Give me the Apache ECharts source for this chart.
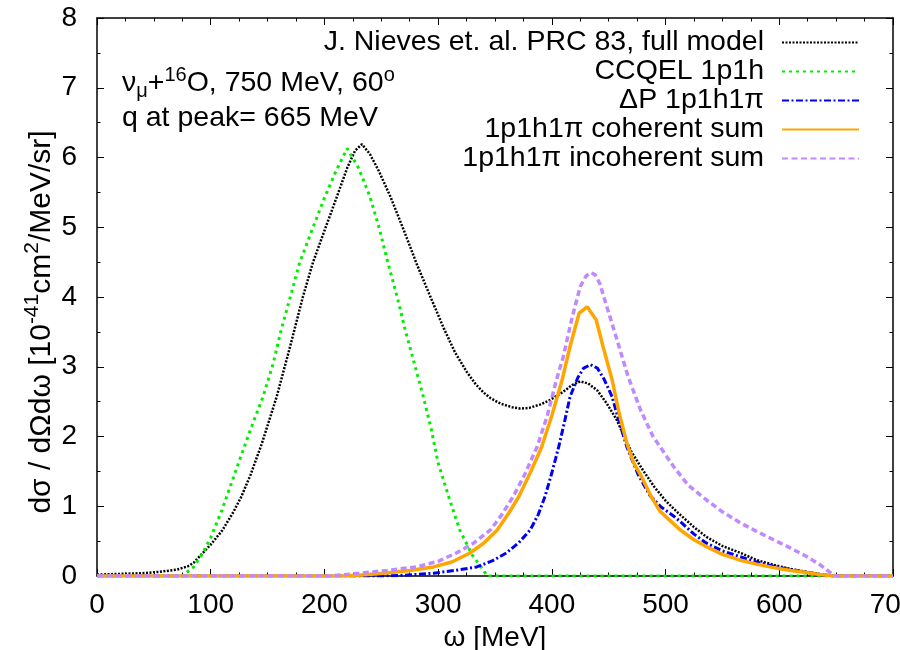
<!DOCTYPE html>
<html>
<head>
    <meta charset="utf-8" />
    <title>numu + 16O, 750 MeV, 60 deg</title>
    <script type="text/javascript" src="https://cdn.jsdelivr.net/npm/echarts@6/dist/echarts.min.js"></script>
    <style>
        html, body { margin: 0; padding: 0; background: #fff; }
        #chart { width: 900px; height: 650px; }
    </style>
</head>
<body>
<div id="chart"></div>
<script type="text/javascript">
    // omega [MeV] and d2sigma values
    var nievesX = [0, 20, 40, 55, 70, 80, 85, 93, 100, 110, 120, 127, 135, 145, 158, 170, 181, 190, 200, 211, 220, 227, 233, 240, 248, 258, 270, 281, 292, 305, 315, 325, 333, 340, 346, 355, 365, 372, 380, 390, 398, 410, 418, 425, 432, 440, 448, 457, 465, 470, 480, 490, 500, 510, 525, 536, 550, 566, 580, 595, 610, 624, 635, 647, 700];
    var nievesY = [0.02, 0.03, 0.04, 0.06, 0.09, 0.14, 0.19, 0.33, 0.45, 0.65, 0.92, 1.14, 1.45, 1.9, 2.57, 3.3, 4.0, 4.5, 4.95, 5.44, 5.85, 6.1, 6.19, 6.05, 5.8, 5.44, 4.95, 4.48, 4.05, 3.55, 3.2, 2.93, 2.75, 2.63, 2.55, 2.47, 2.42, 2.40, 2.41, 2.46, 2.52, 2.64, 2.74, 2.79, 2.76, 2.66, 2.48, 2.24, 1.95, 1.78, 1.52, 1.28, 1.08, 0.92, 0.7, 0.56, 0.43, 0.33, 0.23, 0.16, 0.1, 0.06, 0.03, 0.0, 0.0];

    var ccqelX = [0, 75, 78, 85, 92, 100, 110, 124, 135, 146, 155, 162, 170, 178, 190, 200, 210, 220, 230, 240, 248, 256, 264, 271, 279, 287, 294, 300, 310, 319, 330, 340, 343, 700];
    var ccqelY = [0, 0, 0.04, 0.13, 0.3, 0.55, 0.95, 1.6, 2.1, 2.57, 3.05, 3.53, 4.0, 4.48, 5.0, 5.42, 5.8, 6.13, 5.85, 5.44, 5.0, 4.48, 4.0, 3.53, 3.05, 2.57, 2.1, 1.62, 1.1, 0.66, 0.3, 0.08, 0.0, 0];

    var deltaX = [0, 250, 270, 296, 315, 334, 348, 360, 371, 381, 388, 394, 400, 406, 411, 416, 423, 428, 434, 440, 446, 453, 459, 466, 476, 486, 496, 507, 513, 525, 536, 550, 565, 580, 595, 610, 625, 637, 647, 700];
    var deltaY = [0, 0, 0.01, 0.04, 0.08, 0.13, 0.22, 0.33, 0.48, 0.66, 0.88, 1.14, 1.48, 1.85, 2.2, 2.57, 2.85, 2.98, 3.03, 2.98, 2.82, 2.57, 2.22, 1.85, 1.45, 1.16, 0.99, 0.86, 0.78, 0.6, 0.47, 0.36, 0.28, 0.2, 0.14, 0.09, 0.05, 0.02, 0.0, 0];

    var cohX = [0, 215, 230, 252, 275, 296, 312, 328, 340, 352, 362, 371, 381, 391, 400, 409, 416, 424, 431, 439, 445, 453, 459, 466, 472, 479, 487, 495, 505, 513, 525, 536, 550, 565, 580, 595, 610, 624, 636, 647, 700];
    var cohY = [0, 0, 0.01, 0.04, 0.08, 0.13, 0.2, 0.33, 0.47, 0.66, 0.9, 1.14, 1.48, 1.85, 2.3, 2.81, 3.29, 3.77, 3.86, 3.67, 3.29, 2.81, 2.35, 1.9, 1.62, 1.42, 1.15, 0.93, 0.78, 0.66, 0.52, 0.42, 0.31, 0.23, 0.17, 0.12, 0.08, 0.05, 0.02, 0.0, 0];

    var incohX = [0, 205, 231, 255, 281, 300, 316, 331, 346, 356, 366, 376, 387, 396, 404, 410, 418, 425, 430, 434, 438, 442, 451, 460, 467, 478, 489, 507, 520, 536, 550, 566, 580, 595, 610, 624, 636, 647, 650, 700];
    var incohY = [0, 0, 0.04, 0.08, 0.13, 0.21, 0.33, 0.47, 0.66, 0.88, 1.14, 1.45, 1.85, 2.3, 2.81, 3.14, 3.72, 4.15, 4.3, 4.35, 4.32, 4.2, 3.72, 3.24, 2.86, 2.38, 2.0, 1.57, 1.3, 1.09, 0.92, 0.76, 0.64, 0.52, 0.4, 0.28, 0.16, 0.02, 0, 0];

    var seriesNames = ['J. Nieves et. al. PRC 83, full model', 'CCQEL 1p1h', 'ΔP 1p1h1π', '1p1h1π coherent sum', '1p1h1π incoherent sum'];

    function pairs(xs, ys) {
        var out = [];
        for (var i = 0; i < xs.length; i++) out.push([xs[i], ys[i]]);
        return out;
    }

    var FONT = 'Liberation Sans';
    var myChart = echarts.init(document.getElementById('chart'));

    function frameAxis(pos, isX, showLabel) {
        var ax = {
            type: 'value',
            position: pos,
            min: 0,
            max: isX ? 700 : 8,
            interval: isX ? 100 : 1,
            axisLine: { show: true, onZero: false, lineStyle: { color: '#000', width: 1.5 } },
            axisTick: { show: true, inside: true, length: 7, lineStyle: { color: '#000', width: 1 } },
            minorTick: { show: true, splitNumber: isX ? 4 : 2, length: 3.5, lineStyle: { color: '#000', width: 1 } },
            splitLine: { show: false },
            axisLabel: { show: showLabel, color: '#000', fontSize: 28, fontFamily: FONT, margin: isX ? 15 : 20 }
        };
        return ax;
    }

    var xBottom = frameAxis('bottom', true, true);
    xBottom.name = 'ω [MeV]';
    xBottom.nameLocation = 'middle';
    xBottom.nameGap = 37;
    xBottom.nameTextStyle = { color: '#000', fontSize: 28, fontFamily: FONT };

    var richSup = {
        n: { fontSize: 28.5, lineHeight: 36, fontFamily: FONT, fill: '#000' },
        sup: { fontSize: 20, lineHeight: 20, verticalAlign: 'top', fontFamily: FONT, fill: '#000' },
        sub: { fontSize: 20, lineHeight: 20, verticalAlign: 'bottom', fontFamily: FONT, fill: '#000' }
    };
    var richTitle = {
        n: { fontSize: 30, lineHeight: 40, fontFamily: FONT, fill: '#000' },
        sup: { fontSize: 21, lineHeight: 21, verticalAlign: 'top', fontFamily: FONT, fill: '#000' }
    };

    var option = {
        animation: false,
        backgroundColor: '#fff',
        grid: { left: 97, right: 7, top: 18, bottom: 74, containLabel: false, outerBoundsMode: 'none' },
        xAxis: [xBottom, frameAxis('top', true, false)],
        yAxis: [frameAxis('left', false, true), frameAxis('right', false, false)],
        legend: {
            orient: 'vertical',
            align: 'right',
            right: 40,
            top: 28,
            padding: 0,
            itemGap: 0,
            itemWidth: 77,
            itemHeight: 14,
            selectedMode: false,
            itemStyle: { opacity: 0 },
            textStyle: { color: '#000', fontSize: 28.5, fontFamily: FONT, lineHeight: 28.3, padding: [0, 13, 0, 0] },
            data: seriesNames
        },
        graphic: [
            {
                // y-axis title
                type: 'text', x: 42, y: 322, rotation: Math.PI / 2,
                style: {
                    text: '{n|dσ / dΩdω [10}{sup|-41}{n|cm}{sup|2}{n|/MeV/sr]}',
                    fill: '#000', align: 'center', verticalAlign: 'middle',
                    rich: richTitle
                }
            },
            {
                type: 'text', left: 122, top: 65,
                style: {
                    text: '{n|ν}{sub|μ}{n|+}{sup|16}{n|O, 750 MeV, 60}{sup|o}',
                    fill: '#000',
                    rich: richSup
                }
            },
            {
                type: 'text', left: 122, top: 104,
                style: { text: 'q at peak= 665 MeV', fill: '#000', font: '28.5px "Liberation Sans"' }
            }
        ],
        series: [
            {
                name: seriesNames[0], type: 'line', symbol: 'none', data: pairs(nievesX, nievesY),
                lineStyle: { color: '#000', width: 2.5, type: [2, 1.5] }, itemStyle: { color: '#000' }
            },
            {
                name: seriesNames[1], type: 'line', symbol: 'none', data: pairs(ccqelX, ccqelY),
                lineStyle: { color: '#00ee00', width: 3, type: [3, 4] }, itemStyle: { color: '#00ee00' }
            },
            {
                name: seriesNames[2], type: 'line', symbol: 'none', data: pairs(deltaX, deltaY),
                lineStyle: { color: '#0000ee', width: 3, type: [7, 2.5, 2, 2.5] }, itemStyle: { color: '#0000ee' }
            },
            {
                name: seriesNames[3], type: 'line', symbol: 'none', data: pairs(cohX, cohY),
                lineStyle: { color: '#ffa500', width: 3.5 }, itemStyle: { color: '#ffa500' }
            },
            {
                name: seriesNames[4], type: 'line', symbol: 'none', data: pairs(incohX, incohY),
                lineStyle: { color: '#c08aff', width: 3.5, type: [6, 3.5] }, itemStyle: { color: '#c08aff' }
            }
        ]
    };
    myChart.setOption(option);
</script>
</body>
</html>
